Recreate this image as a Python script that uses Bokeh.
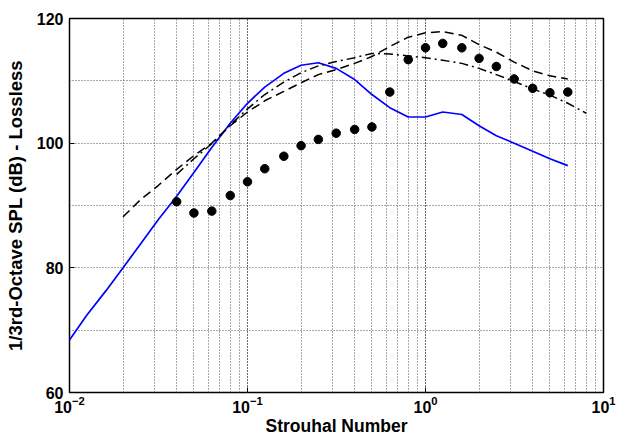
from bokeh.plotting import figure
from bokeh.models import Range1d, FixedTicker, LogTicker
from bokeh.embed import file_html
from bokeh.resources import INLINE

# Third-octave band centres (Strouhal number)
st_blue = [0.01, 0.0125, 0.016, 0.02, 0.025, 0.0315, 0.04, 0.05, 0.063, 0.08, 0.1,
           0.125, 0.16, 0.2, 0.25, 0.315, 0.4, 0.5, 0.63, 0.8, 1.0, 1.25, 1.6,
           2.0, 2.5, 3.15, 4.0, 5.0, 6.3]
spl_blue = [68.4, 72.4, 76.3, 80.0, 83.8, 87.7, 91.5, 95.3, 99.3, 103.2, 106.4,
            109.0, 111.2, 112.5, 112.9, 112.0, 110.2, 107.8, 105.7, 104.2, 104.2,
            105.0, 104.6, 102.8, 101.2, 100.0, 98.7, 97.5, 96.4]

st_dots = [0.04, 0.05, 0.063, 0.08, 0.1, 0.125, 0.16, 0.2, 0.25, 0.315, 0.4, 0.5,
           0.63, 0.8, 1.0, 1.25, 1.6, 2.0, 2.5, 3.15, 4.0, 5.0, 6.3]
spl_dots = [90.6, 88.8, 89.1, 91.6, 93.8, 95.9, 97.9, 99.6, 100.6, 101.6, 102.2, 102.6,
            108.2, 113.4, 115.3, 116.0, 115.3, 113.6, 112.3, 110.3, 108.8, 108.1, 108.2]

st_dash = [0.02, 0.025, 0.0315, 0.04, 0.05, 0.063, 0.08, 0.1, 0.125, 0.16, 0.2, 0.25,
           0.315, 0.4, 0.5, 0.63, 0.8, 1.0, 1.25, 1.6, 2.0, 2.5, 3.15, 4.0, 5.0, 6.3]
spl_dash = [88.2, 90.9, 93.2, 95.8, 98.0, 100.0, 102.8, 105.0, 106.8, 108.3, 109.7, 111.0,
            111.8, 112.8, 113.9, 115.5, 117.0, 117.7, 117.9, 117.3, 115.8, 114.6, 113.0,
            111.6, 110.8, 110.3]

st_dashdot = [0.04, 0.05, 0.063, 0.08, 0.1, 0.125, 0.16, 0.2, 0.25, 0.315, 0.4, 0.5,
              0.63, 0.8, 1.0, 1.25, 1.6, 2.0, 2.5, 3.15, 4.0, 5.0, 6.3, 8.0]
spl_dashdot = [95.0, 97.5, 99.9, 102.9, 105.5, 107.8, 109.8, 111.3, 112.4, 113.1, 113.7, 114.4,
               114.3, 114.0, 113.7, 113.3, 112.8, 112.0, 111.0, 109.9, 108.7, 107.7, 106.4, 104.8]

y_major = [60, 80, 100, 120]
y_minor = [70, 90, 110]

p = figure(width=617, height=439, x_axis_type="log",
           x_range=Range1d(0.01, 10), y_range=Range1d(60, 120),
           output_backend="svg", toolbar_location=None,
           min_border_left=69, min_border_right=14, min_border_top=18, min_border_bottom=47)

p.background_fill_color = "white"
p.border_fill_color = "white"
p.outline_line_color = "black"
p.outline_line_width = 1.5
p.outline_line_alpha = 1.0

p.xaxis.ticker = LogTicker(num_minor_ticks=10)
p.yaxis.ticker = FixedTicker(ticks=y_major, minor_ticks=y_minor)

for g in (p.xgrid, p.ygrid):
    g.grid_line_color = "#555555"
    g.grid_line_dash = "1 2"
    g.grid_line_width = 1
    g.grid_line_alpha = 1.0
    g.minor_grid_line_color = "#555555"
    g.minor_grid_line_dash = "1 2"
    g.minor_grid_line_width = 1
    g.minor_grid_line_alpha = 1.0

for ax in (p.xaxis, p.yaxis):
    ax.axis_line_color = None
    ax.major_tick_in = 5
    ax.major_tick_out = 0
    ax.minor_tick_in = 0
    ax.minor_tick_out = 0
    ax.major_tick_line_color = "black"
    ax.major_label_text_font = "Liberation Sans"
    ax.major_label_text_font_style = "bold"
    ax.major_label_text_font_size = "16px"
    ax.major_label_text_color = "black"
    ax.axis_label_text_font = "Liberation Sans"
    ax.axis_label_text_font_style = "bold"
    ax.axis_label_text_color = "black"

p.xaxis.axis_label_text_font_size = "17.5px"
p.yaxis.axis_label_text_font_size = "18.5px"
p.xaxis.axis_label = "Strouhal Number"
p.yaxis.axis_label = "1/3rd-Octave SPL (dB) - Lossless"
p.yaxis.major_label_standoff = 6
p.yaxis.axis_label_standoff = 8
p.xaxis.major_label_standoff = 3
p.xaxis.axis_label_standoff = 0

p.line(st_blue, spl_blue, line_color="#0000ff", line_width=1.7)
p.line(st_dash, spl_dash, line_color="black", line_width=1.5, line_dash="9 5")
p.line(st_dashdot, spl_dashdot, line_color="black", line_width=1.5, line_dash="9 4 2 4")
p.scatter(st_dots, spl_dots, size=8.5, fill_color="black", line_color="black")

open("out.html", "w").write(file_html(p, INLINE))
